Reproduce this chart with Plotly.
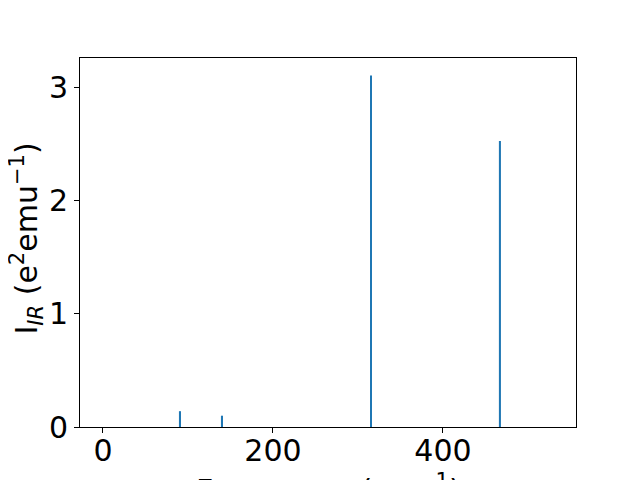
import plotly.graph_objects as go

freqs = [90.6, 140.0, 315.3, 467.0]
intensities = [0.14, 0.10, 3.11, 2.53]
bar_widths = [2.4, 2.4, 1.2, 2.4]
x_ticks = [0, 200, 400]
y_ticks = [0, 1, 2, 3]
x_title = "Frequency (cm<sup>−1</sup>)"
y_title = "I<sub><i>IR</i></sub> (e<sup>2</sup>emu<sup>−1</sup>)"

fig = go.Figure()
fig.add_trace(go.Bar(x=freqs, y=intensities, width=bar_widths,
                     marker=dict(color="#1f77b4", line=dict(width=0))))

axis_common = dict(showline=True, linecolor="black", linewidth=1, mirror=True,
                   ticks="outside", ticklen=5, tickwidth=1, tickcolor="black",
                   showgrid=False, zeroline=False, automargin=False,
                   tickfont=dict(family="DejaVu Sans", size=30, color="black"))

title_font = dict(family="DejaVu Sans", size=30, color="black")

# page body has an 8px offset, so margins compensate
fig.update_layout(
    width=640, height=480,
    margin=dict(l=72, r=72, t=50, b=61),
    plot_bgcolor="white", paper_bgcolor="white",
    showlegend=False,
    xaxis=dict(range=[-27, 556.5], tickvals=x_ticks, ticklabelstandoff=-8, **axis_common),
    yaxis=dict(range=[0, 3.265], tickvals=y_ticks, **axis_common),
    annotations=[
        dict(text=x_title, xref="paper", yref="paper", x=0.5, y=0,
             xanchor="center", yanchor="top", yshift=-40, showarrow=False, font=title_font),
        dict(text=y_title, xref="paper", yref="paper", x=0, y=0.5, textangle=-90,
             xanchor="center", yanchor="middle", xshift=-53, yshift=4,
             showarrow=False, font=title_font),
    ],
)

fig.write_html("out.html")
